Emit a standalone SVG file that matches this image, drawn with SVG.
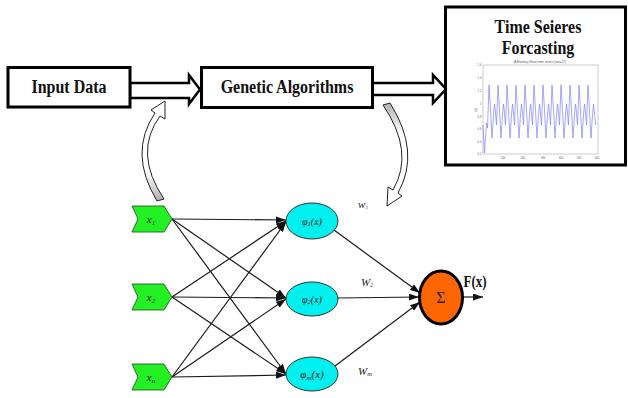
<svg xmlns="http://www.w3.org/2000/svg" width="628" height="398" viewBox="0 0 628 398">
  <defs>
    <style>
      .box { fill: #ffffff; stroke: #000000; stroke-width: 3; }
      .block { fill: #ffffff; stroke: #000000; stroke-width: 2.5; stroke-linejoin: miter; }
      .title { font-family: "Liberation Serif", "Times New Roman", serif; font-weight: bold; font-size: 16px; fill: #111111; text-anchor: middle; }
      .loop { stroke: #222222; stroke-width: 1; }
      .chev { fill: #22f022; stroke: #2b5a2b; stroke-width: 0.9; }
      .hid { fill: #00f0f0; stroke: #333333; stroke-width: 1; }
      .math { font-family: "Liberation Serif", "Times New Roman", serif; font-style: italic; fill: #222222; text-anchor: middle; }
      .link { stroke: #1a1a1a; stroke-width: 1.2; fill: none; marker-end: url(#head); }
      .tick { font-family: "Liberation Sans", Arial, sans-serif; font-size: 2.8px; fill: #666666; }
    </style>
    <marker id="head" viewBox="0 0 10 7" refX="10" refY="3.5" markerWidth="10" markerHeight="7" markerUnits="userSpaceOnUse" orient="auto">
      <path d="M0,0 L10,3.5 L0,7 Z" fill="#111111"/>
    </marker>
    <linearGradient id="fadeDown" x1="0" y1="0" x2="0" y2="1">
      <stop offset="0" stop-color="#ffffff"/>
      <stop offset="0.7" stop-color="#ffffff"/>
      <stop offset="1" stop-color="#b0b0b0"/>
    </linearGradient>
    <linearGradient id="fadeUp" x1="0" y1="0" x2="0" y2="1">
      <stop offset="0" stop-color="#b0b0b0"/>
      <stop offset="0.3" stop-color="#ffffff"/>
      <stop offset="1" stop-color="#ffffff"/>
    </linearGradient>
  </defs>

  <rect width="628" height="398" fill="#ffffff"/>

  <!-- hollow block arrows between the top stages -->
  <g id="pipeline-connectors">
    <polygon class="block" points="130,83 189,83 189,75 200,89.5 189,104 189,98 130,98"/>
    <polygon class="block" points="372,83 433,83 433,75 446,89 433,103 433,95 372,95"/>
  </g>

  <g id="input-data">
    <rect class="box" x="8" y="67.5" width="122" height="39.5"/>
    <text class="title" transform="translate(69 92.5) scale(1 1.18)">Input Data</text>
  </g>

  <g id="genetic-algorithms">
    <rect class="box" x="201.5" y="67.5" width="171" height="40"/>
    <text class="title" transform="translate(287 92.5) scale(1 1.18)">Genetic Algorithms</text>
  </g>

  <g id="forecasting">
    <rect class="box" x="445.5" y="7" width="180" height="158"/>
    <text class="title" transform="translate(538 33) scale(1 1.18)">Time Seieres</text>
    <text class="title" transform="translate(538 53.5) scale(1 1.18)">Forcasting</text>
    <!-- small time-series plot -->
    <rect x="483" y="65" width="115" height="89" fill="#ffffff" stroke="#999999" stroke-width="0.5"/>
    <text x="540" y="62.5" font-family="Liberation Sans, Arial, sans-serif" font-size="3.2" fill="#555555" text-anchor="middle">A Mackey-Glass time series (tau=17)</text>
    <g class="tick" text-anchor="end">
      <text x="481.5" y="66">1.6</text>
      <text x="481.5" y="79">1.4</text>
      <text x="481.5" y="92">1.2</text>
      <text x="481.5" y="105">1</text>
      <text x="481.5" y="118">0.8</text>
      <text x="481.5" y="130">0.6</text>
      <text x="481.5" y="143">0.4</text>
      <text x="481.5" y="155">0.2</text>
    </g>
    <g class="tick" text-anchor="middle">
      <text x="503" y="158.5">100</text>
      <text x="523" y="158.5">200</text>
      <text x="543" y="158.5">300</text>
      <text x="561" y="158.5">400</text>
      <text x="579" y="158.5">500</text>
      <text x="597" y="158.5">600</text>
    </g>
    <text class="tick" transform="translate(477 110) rotate(-90)" text-anchor="middle">x(t)</text>
    <path fill="none" stroke="#8080ff" stroke-width="0.7" stroke-linejoin="round"
      d="M483 125 l1.5 28 l2 -30 l1 5 l1.5 -43
         l1.5 25 l1.5 28 l1.5 -23 l1 -11 l1 9 l1 12 l1.5 -40
         l1.5 25 l1.5 28 l1.5 -23 l1 -11 l1 9 l1 12 l1.5 -40
         l1.5 25 l1.5 28 l1.5 -23 l1 -11 l1 9 l1 12 l1.5 -40
         l1.5 25 l1.5 28 l1.5 -23 l1 -11 l1 9 l1 12 l1.5 -40
         l1.5 25 l1.5 28 l1.5 -23 l1 -11 l1 9 l1 12 l1.5 -40
         l1.5 25 l1.5 28 l1.5 -23 l1 -11 l1 9 l1 12 l1.5 -40
         l1.5 25 l1.5 28 l1.5 -23 l1 -11 l1 9 l1 12 l1.5 -40
         l1.5 25 l1.5 28 l1.5 -23 l1 -11 l1 9 l1 12 l1.5 -40
         l1.5 25 l1.5 28 l1.5 -23 l1 -11 l1 9 l1 12 l1.5 -40
         l1.5 25 l1.5 28 l1.5 -23 l1 -11 l1 9 l1 12 l1.5 -40
         l1.5 25 l1.5 28 l1.5 -23 l1 -11 l1 9 l1 12 l1.5 -40
         l1.5 25 l1.5 28 l1.5 -23 l1 -11 l1 9 l1 12"/>
  </g>

  <!-- curved feedback arrows between the network and the optimiser -->
  <g id="feedback-arrows">
    <path class="loop" fill="url(#fadeDown)" d="M157 201 Q128 153 155 113 L151 110 L165 101 L165 119 L160 116 Q133 153 164 199 Z"/>
    <path class="loop" fill="url(#fadeUp)" d="M390 103 Q421 152 398 193 L402 196 L387 206 L388 187 L393 190 Q415 152 383 105 Z"/>
  </g>

  <!-- network connections -->
  <g id="connectors">
    <line class="link" x1="172" y1="219" x2="286" y2="220"/>
    <line class="link" x1="172" y1="219" x2="286" y2="298"/>
    <line class="link" x1="172" y1="219" x2="286" y2="374"/>
    <line class="link" x1="172" y1="297" x2="286" y2="221"/>
    <line class="link" x1="172" y1="297" x2="286" y2="298"/>
    <line class="link" x1="172" y1="297" x2="286" y2="374"/>
    <line class="link" x1="172" y1="377" x2="286" y2="222"/>
    <line class="link" x1="172" y1="377" x2="286" y2="299"/>
    <line class="link" x1="172" y1="377" x2="286" y2="375"/>
    <line class="link" x1="334" y1="230" x2="420" y2="293"/>
    <line class="link" x1="338" y1="298" x2="419" y2="297"/>
    <line class="link" x1="335" y1="366" x2="420" y2="302"/>
    <line class="link" x1="463" y1="297" x2="483" y2="297"/>
  </g>

  <!-- input layer -->
  <g id="input-x1" transform="translate(132 219)">
    <polygon class="chev" points="0,-13 32,-13 40,0 32,13 0,13 6,0"/>
    <text class="math" x="19" y="3.5" font-size="11">x<tspan font-size="7" dy="2">1</tspan></text>
  </g>
  <g id="input-x2" transform="translate(132 297)">
    <polygon class="chev" points="0,-13 32,-13 40,0 32,13 0,13 6,0"/>
    <text class="math" x="19" y="3.5" font-size="11">x<tspan font-size="7" dy="2">2</tspan></text>
  </g>
  <g id="input-xn" transform="translate(132 377)">
    <polygon class="chev" points="0,-13 32,-13 40,0 32,13 0,13 6,0"/>
    <text class="math" x="19" y="3.5" font-size="11">x<tspan font-size="7" dy="2">n</tspan></text>
  </g>

  <!-- hidden layer (radial basis units) -->
  <g id="hidden-1">
    <ellipse class="hid" cx="312" cy="221" rx="26" ry="18"/>
    <text class="math" x="312" y="224.5" font-size="10">φ<tspan font-size="6.5" dy="1.5">1</tspan><tspan dy="-1.5">(x)</tspan></text>
  </g>
  <g id="hidden-2">
    <ellipse class="hid" cx="312" cy="299" rx="26" ry="17"/>
    <text class="math" x="312" y="302.5" font-size="10">φ<tspan font-size="6.5" dy="1.5">2</tspan><tspan dy="-1.5">(x)</tspan></text>
  </g>
  <g id="hidden-m">
    <ellipse class="hid" cx="312" cy="374" rx="26" ry="17"/>
    <text class="math" x="312" y="378" font-size="11">φ<tspan font-size="7" dy="1.5">m</tspan><tspan dy="-1.5">(x)</tspan></text>
  </g>

  <!-- output weights -->
  <g id="weights">
    <text class="math" x="363" y="208" font-size="11">w<tspan font-size="5" dy="1">1</tspan></text>
    <text class="math" x="367" y="286" font-size="11">W<tspan font-size="5.5" dy="1">2</tspan></text>
    <text class="math" x="365" y="375" font-size="11">W<tspan font-size="6.5" dy="1">m</tspan></text>
  </g>

  <!-- summation unit -->
  <g id="sum">
    <ellipse cx="441" cy="297.5" rx="21.5" ry="26.5" fill="#ff6600" stroke="#000000" stroke-width="3"/>
    <text x="441" y="303" font-family="Liberation Serif, Times New Roman, serif" font-size="16" fill="#222222" text-anchor="middle">Σ</text>
    <text class="title" transform="translate(475 287) scale(1 1.22)" style="font-size:13px">F(x)</text>
  </g>
</svg>
